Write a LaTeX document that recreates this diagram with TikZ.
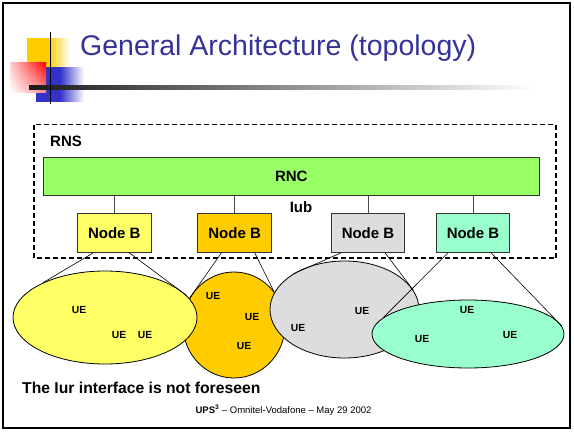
\documentclass[tikz,border=0pt]{standalone}
\usepackage{fontspec}
\setmainfont{Liberation Sans}
\usetikzlibrary{shapes.geometric, shadings}

\definecolor{titleblue}{RGB}{51,51,153}
\definecolor{rncgreen}{RGB}{153,255,102}
\definecolor{cellyellow}{RGB}{255,255,102}
\definecolor{cellorange}{RGB}{255,204,0}
\definecolor{cellgray}{RGB}{221,221,221}
\definecolor{cellmint}{RGB}{153,255,204}
\definecolor{decoblue}{RGB}{51,51,204}

\begin{document}
\begin{tikzpicture}[x=1pt, y=-1pt,
	nodeb/.style={draw=black!80, line width=0.8pt, minimum width=73.5pt, minimum height=39pt, inner sep=0pt, font=\fontsize{15}{17}\selectfont\bfseries},
	cell/.style={ellipse, draw, line width=0.8pt, inner sep=0pt},
	ue/.style={inner sep=0pt, font=\fontsize{10.3}{12}\selectfont\bfseries},
	wire/.style={line width=0.6pt}]

	\useasboundingbox (0, 0) rectangle (574, 432);
	\fill[white] (0, 0) rectangle (574, 432);
	\draw[line width=2pt] (3, 3) rectangle (570, 428);

	% slide decoration
	\shade[left color=cellorange, right color=white, middle color=cellorange] (27, 38) rectangle (70, 68);
	\shade[left color=decoblue, right color=white, middle color=decoblue] (36, 67) rectangle (84, 101);
	\shade[upper right=red, upper left=red!20!white, lower right=red!45!white, lower left=white] (10, 62) rectangle (46, 92);
	\shade[left color=black!90, right color=white] (29, 85.5) rectangle (535, 89);
	\draw[line width=1.3pt] (50.5, 32) -- (50.5, 104);

	\draw (80, 55) node (title) [anchor=base west, inner sep=0pt, text=titleblue, font=\fontsize{28.5}{32}\selectfont] {General Architecture (topology)};

	% RNS
	\draw[line width=1.3pt, dash pattern=on 5pt off 3pt] (34, 124.5) rectangle (556, 258);
	\draw (50, 141) node (rns) [anchor=west, inner sep=0pt, font=\fontsize{15}{17}\selectfont\bfseries] {RNS};

	\draw (291.25, 176.25) node (rnc) [draw=black!80, line width=0.8pt, fill=rncgreen, minimum width=495.5pt, minimum height=38.5pt, inner sep=0pt, font=\fontsize{15}{17}\selectfont\bfseries] {RNC};
	\draw (301, 207) node (iub) [inner sep=0pt, font=\fontsize{15}{17}\selectfont\bfseries] {Iub};

	\draw (114.3, 233) node (nbA) [nodeb, fill=cellyellow] {Node B};
	\draw (234.6, 233) node (nbB) [nodeb, fill=cellorange] {Node B};
	\draw (368, 233) node (nbC) [nodeb, fill=cellgray] {Node B};
	\draw (473, 233) node (nbD) [nodeb, fill=cellmint] {Node B};

	\foreach \nb in {nbA, nbB, nbC, nbD}
		\draw[wire, black!70] (\nb.north |- rnc.south) -- (\nb.north);

	% cells
	\draw (234, 325) node (cellB) [cell, fill=cellorange, minimum width=102pt, minimum height=106pt] {};
	\draw (105, 317.5) node (cellA) [cell, fill=cellyellow, minimum width=184pt, minimum height=93pt] {};
	\draw (344.5, 309.5) node (cellC) [cell, fill=cellgray, minimum width=149pt, minimum height=97pt] {};
	\draw (468, 334) node (cellD) [cell, fill=cellmint, minimum width=192pt, minimum height=68pt] {};

	\draw[wire] ([xshift=16pt]nbA.south west) -- (cellA.151);
	\draw[wire] ([xshift=-22pt]nbA.south east) -- (cellA.15);
	\draw[wire] ([xshift=24pt]nbB.south west) -- (cellB.149);
	\draw[wire] ([xshift=-17pt]nbB.south east) -- (cellB.40);
	\draw[wire] ([xshift=10pt]nbC.south west) -- (cellC.145);
	\draw[wire] ([xshift=-20pt]nbC.south east) -- (cellC.16);
	\draw[wire] ([xshift=12pt]nbD.south west) -- (cellD.169);
	\draw[wire] ([xshift=-19pt]nbD.south east) -- (cellD.5);

	\draw (79, 310) node (ueA1) [ue] {UE};
	\draw (119, 335) node (ueA2) [ue] {UE};
	\draw (145, 335) node (ueA3) [ue] {UE};
	\draw (213, 296) node (ueB1) [ue] {UE};
	\draw (252, 317) node (ueB2) [ue] {UE};
	\draw (244, 346) node (ueB3) [ue] {UE};
	\draw (362, 311) node (ueC1) [ue] {UE};
	\draw (298, 328) node (ueC2) [ue] {UE};
	\draw (467, 310) node (ueD1) [ue] {UE};
	\draw (422, 339) node (ueD2) [ue] {UE};
	\draw (510, 335) node (ueD3) [ue] {UE};

	\draw (22, 388) node (note) [anchor=west, inner sep=0pt, font=\fontsize{15.7}{18}\selectfont\bfseries] {The Iur interface is not foreseen};

	\draw (283.5, 410) node (footer) [inner sep=0pt, font=\fontsize{9.5}{11}\selectfont] {\textbf{UPS\textsuperscript{3}} -- Omnitel-Vodafone -- May 29 2002};

\end{tikzpicture}
\end{document}
